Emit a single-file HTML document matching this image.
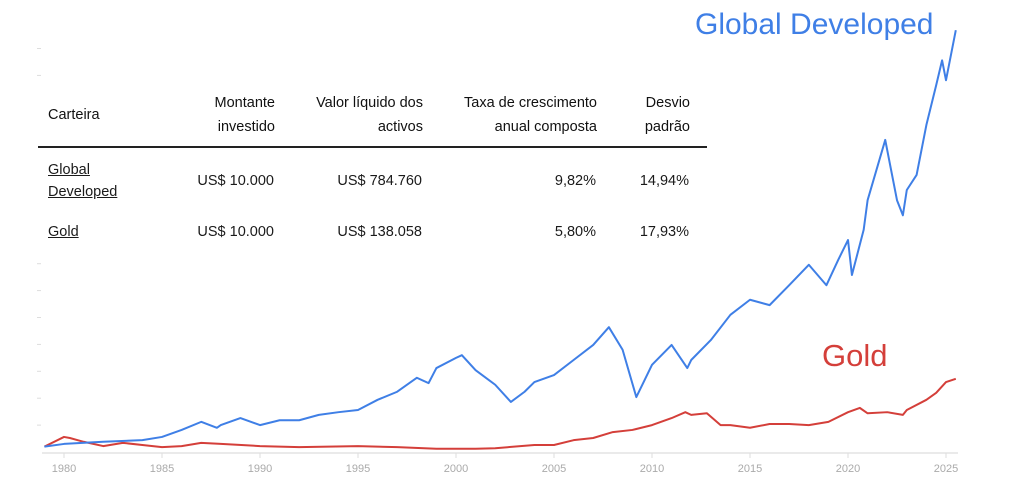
<!DOCTYPE html>
<html><head><meta charset="utf-8"><style>
body{margin:0;background:#fff;font-family:"Liberation Sans",sans-serif}
#wrap{position:relative;width:1024px;height:504px;overflow:hidden}
svg{position:absolute;left:0;top:0}
table{position:absolute;left:38px;top:84px;border-collapse:collapse;font-size:14.5px;color:#1a1a1a;background:#fff}
th{font-weight:normal;text-align:right;padding:0;line-height:24px;height:62px;vertical-align:middle;color:#111}
td{text-align:right;line-height:22px;vertical-align:middle}
.c0{text-align:left;width:130px;padding-left:10px}
.hl{border-bottom:2px solid #222}
u{text-decoration:underline}
</style></head><body><div id="wrap">
<svg id="chart" width="1024" height="504"></svg>
<table>
<tr class="hl"><th class="c0" style="text-align:left">Carteira</th><th style="width:96px">Montante<br>investido</th><th style="width:148px">Valor líquido dos<br>activos</th><th style="width:174px">Taxa de crescimento<br>anual composta</th><th style="width:93px">Desvio<br>padrão</th><th style="width:17px"></th></tr>
<tr style="height:66px"><td class="c0"><u>Global<br>Developed</u></td><td>US$ 10.000</td><td>US$ 784.760</td><td>9,82%</td><td>14,94%</td><td></td></tr>
<tr style="height:38px"><td class="c0"><u>Gold</u></td><td>US$ 10.000</td><td>US$ 138.058</td><td>5,80%</td><td>17,93%</td><td></td></tr>
</table>
</div>
<script>
const blueYears=[1979,1980,1982,1984,1985,1986,1987,1987.8,1988,1989,1990,1991,1992,1993,1994,1995,1996,1997,1998,1998.6,1999,2000,2000.3,2001,2002,2002.8,2003.5,2004,2005,2006,2007,2007.8,2008.5,2009.2,2010,2011,2011.8,2012,2013,2014,2015,2016,2017,2018,2018.9,2019.5,2020,2020.2,2020.8,2021,2021.9,2022.5,2022.8,2023,2023.5,2024,2024.5,2024.8,2025,2025.5];
const blueValues=[10,15,19,22,28,41,56,45,50,63,50,59,59,69,74,78,97,112,138,128,156,175,180,152,125,93,112,130,143,171,199,232,190,102,162,199,156,171,208,255,283,273,310,348,310,357,394,329,413,468,580,468,440,487,515,608,682,728,691,784];
const goldYears=[1979,1980,1980.3,1980.7,1981,1982,1983,1984,1985,1986,1987,1988,1990,1992,1995,1997,1999,2001,2002,2004,2005,2006,2007,2008,2009,2010,2011,2011.7,2012,2012.8,2013.5,2014,2015,2016,2017,2018,2019,2020,2020.6,2021,2022,2022.8,2023,2024,2024.5,2025,2025.5];
const goldValues=[10,28,26,22,19,11,17,13,9,11,17,15,11,9,11,9,6,6,7,13,13,22,26,37,41,50,63,74,69,72,50,50,45,52,52,50,56,74,82,72,74,69,78,97,110,130,136];
const xTicks=[1980,1985,1990,1995,2000,2005,2010,2015,2020,2025];
const yTicks=[0,50,100,150,200,250,300,350,400,450,500,550,600,650,700,750];
const X=y=>64+(y-1980)*19.6, Y=v=>452-v*0.538;
const svg=document.getElementById('chart'),NS='http://www.w3.org/2000/svg';
function mk(t,a){const e=document.createElementNS(NS,t);for(const k in a)e.setAttribute(k,a[k]);svg.appendChild(e);return e;}
const ax=mk('line',{x1:42,x2:958,y1:453,y2:453,stroke:'#e4e4e4','stroke-width':1.5});


yTicks.slice(1).forEach(v=>{if(Y(v)>85&&Y(v)<255)return;const t=mk('line',{x1:37,x2:41,y1:Y(v),y2:Y(v),stroke:'#ddd'});

});
xTicks.forEach(yr=>{mk('line',{x1:X(yr),x2:X(yr),y1:453,y2:458,stroke:'#ddd'});
const t=mk('text',{x:X(yr),y:472,'text-anchor':'middle','font-size':11,fill:'#aaa'});t.textContent=yr;

});
function line(xs,vs,c,n){const p=mk('polyline',{points:xs.map((x,i)=>X(x)+','+Y(vs[i])).join(' '),fill:'none',stroke:c,'stroke-width':2,'stroke-linejoin':'round'});

}
line(goldYears,goldValues,'#d43f3a','gold-line');
line(blueYears,blueValues,'#3f7fe6','global-developed-line');
const l1=mk('text',{x:695,y:34,'font-size':30,fill:'#3f7fe6'});l1.textContent='Global Developed';


const l2=mk('text',{x:822,y:366,'font-size':31,fill:'#d43f3a'});l2.textContent='Gold';


</script></body></html>
